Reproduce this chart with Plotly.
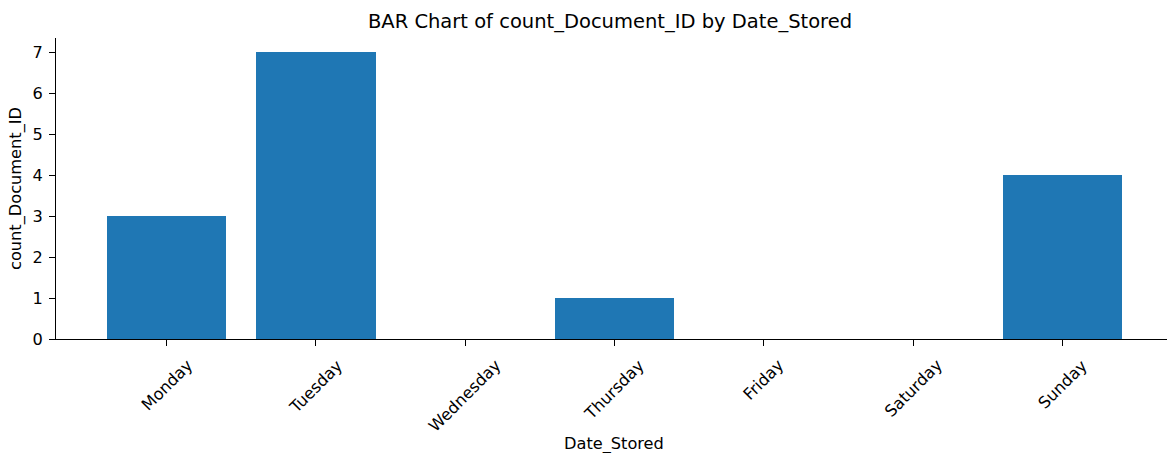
import plotly.graph_objects as go

categories = ["Monday", "Tuesday", "Wednesday", "Thursday", "Friday", "Saturday", "Sunday"]
values = [3, 7, 0, 1, 0, 0, 4]
y_ticks = [0, 1, 2, 3, 4, 5, 6, 7]

W, H = 1167, 453
L, R, T, B = 56, 0, 38, 114
FONT = "DejaVu Sans"
FS = 16.2

fig = go.Figure(go.Bar(x=list(range(len(categories))), y=values,
                       marker=dict(color="#1f77b4", line=dict(width=0)),
                       width=0.8, hoverinfo="skip"))

annotations = []
for i, c in enumerate(categories):
    annotations.append(dict(x=i, y=0, xref="x", yref="y", text=c, showarrow=False,
                            textangle=-45, xanchor="center", yanchor="top", yshift=-14,
                            font=dict(family=FONT, size=FS, color="black")))
annotations.append(dict(x=(614 - L) / (W - L - R), y=-(444 - (H - B)) / (H - T - B),
                        xref="paper", yref="paper", text="Date_Stored", showarrow=False,
                        xanchor="center", yanchor="middle",
                        font=dict(family=FONT, size=FS, color="black")))

fig.update_layout(
    width=W, height=H,
    margin=dict(l=L, r=R, t=T, b=B, pad=0, autoexpand=False),
    paper_bgcolor="white", plot_bgcolor="white",
    font=dict(family=FONT, size=FS, color="black"),
    title=dict(text="BAR Chart of count_Document_ID by Date_Stored",
               x=610 / W, xanchor="center", xref="container",
               y=1 - 21 / H, yanchor="middle", yref="container",
               font=dict(family=FONT, size=19.5, color="black")),
    xaxis=dict(range=[-0.74, 6.70], tickmode="array", tickvals=list(range(len(categories))),
               showticklabels=False, ticks="outside", ticklen=6, tickwidth=1, tickcolor="black",
               showline=True, linecolor="black", linewidth=1, showgrid=False, zeroline=False,
               automargin=False),
    yaxis=dict(range=[0, 7.35], tickmode="array", tickvals=y_ticks,
               ticks="outside", ticklen=6, tickwidth=1, tickcolor="black",
               showline=True, linecolor="black", linewidth=1, showgrid=False, zeroline=False,
               ticklabelstandoff=3, automargin=False,
               tickfont=dict(family=FONT, size=FS, color="black"),
               title=dict(text="count_Document_ID", standoff=6,
                          font=dict(family=FONT, size=FS, color="black"))),
    annotations=annotations,
    showlegend=False,
    bargap=0,
)

fig.write_html("out.html", config={"displayModeBar": False},
               post_script="document.body.style.margin='0';document.body.style.padding='0';")
